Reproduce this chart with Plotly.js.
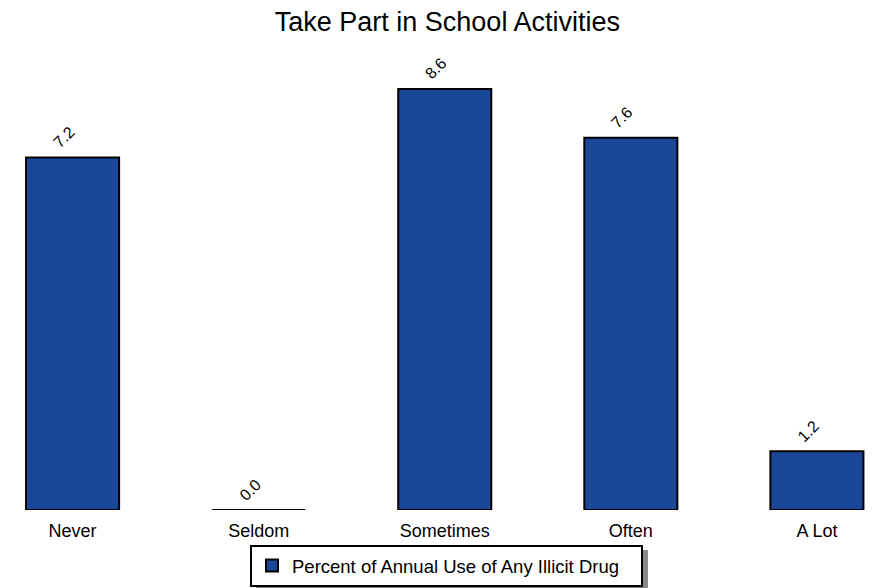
<!DOCTYPE html>
<html>
<head>
<meta charset="utf-8">
<script src="https://cdn.plot.ly/plotly-3.0.1.min.js"></script>
<style>html,body{margin:0;padding:0;background:#fff;}#chart{width:872px;height:588px;}</style>
</head>
<body>
<div id="chart"></div>
<script>
const categories = ["Never", "Seldom", "Sometimes", "Often", "A Lot"];
const values = [7.2, 0.0, 8.6, 7.6, 1.2];
const valueLabels = ["7.2", "0.0", "8.6", "7.6", "1.2"];
const seriesName = "Percent of Annual Use of Any Illicit Drug";
const chartTitle = "Take Part in School Activities";

const FONT = "Liberation Sans, Arial, sans-serif";

const trace = {
  type: "bar",
  x: categories,
  y: values,
  name: seriesName,
  width: 0.5,
  marker: {color: "#1b4799", line: {color: "#000000", width: 2}},
  hoverinfo: "none"
};

const annotations = categories.map((c, i) => ({
  x: c,
  y: values[i],
  xref: "x",
  yref: "y",
  text: valueLabels[i],
  textangle: -45,
  showarrow: false,
  xanchor: "center",
  yanchor: "middle",
  xshift: -9,
  yshift: 20,
  font: {family: FONT, size: 16, color: "#000"}
}));

// legend drop shadow (paper coords: plot spans x 0..872 px, y 60..510 px)
const px = v => v / 872;
const py = v => (510 - v) / 450;
const shapes = [{
  type: "rect", xref: "paper", yref: "paper", layer: "below",
  x0: px(256), x1: px(648), y0: py(550), y1: py(592),
  fillcolor: "#8a8a8a", line: {width: 0}
}];

const layout = {
  width: 872,
  height: 588,
  margin: {l: 0, r: 0, t: 60, b: 78},
  paper_bgcolor: "#fff",
  plot_bgcolor: "#fff",
  font: {family: FONT, color: "#000", size: 18},
  title: {text: chartTitle, font: {family: FONT, size: 27, color: "#000"}, x: 0.513, xanchor: "center", y: 0.964, yanchor: "middle"},
  xaxis: {
    type: "category",
    range: [-0.39, 4.296],
    showline: false, showgrid: false, zeroline: false, ticks: "",
    ticklabelstandoff: 8,
    tickfont: {family: FONT, size: 18}
  },
  yaxis: {
    range: [0, 9.19],
    visible: false, showgrid: false, zeroline: false
  },
  showlegend: true,
  legend: {
    orientation: "h",
    x: px(446.5), xanchor: "center",
    y: py(545), yanchor: "top",
    bordercolor: "#000", borderwidth: 2,
    bgcolor: "#fff",
    entrywidth: 344,
    font: {family: FONT, size: 18.5}
  },
  shapes: shapes,
  annotations: annotations,
  bargap: 0.5
};

Plotly.newPlot("chart", [trace], layout, {displayModeBar: false, staticPlot: true});
</script>
</body>
</html>
